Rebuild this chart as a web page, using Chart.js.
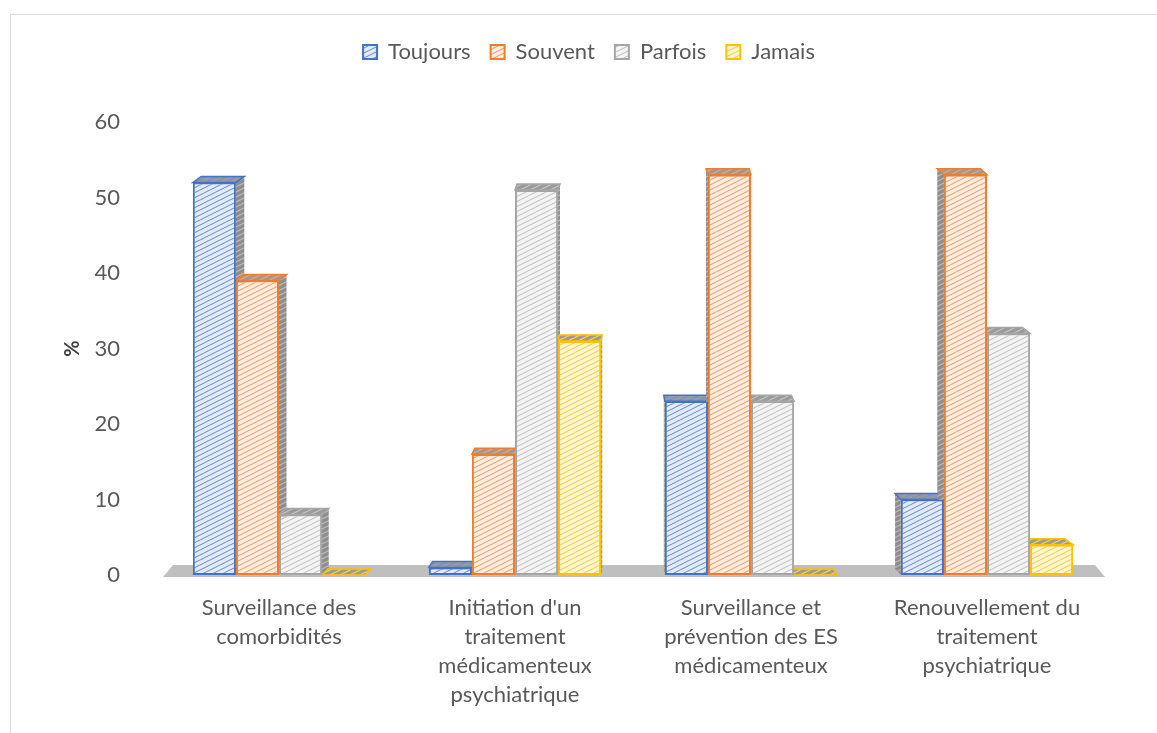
<!DOCTYPE html>
<html>
<head>
<meta charset="utf-8">
<script src="https://cdn.jsdelivr.net/npm/chart.js@4"></script>
<style>
  html, body { margin: 0; padding: 0; background: #fff; }
  #wrap { position: relative; width: 1157px; height: 733px; overflow: hidden; }
  #frame { position: absolute; left: 10px; top: 14px; width: 1160px; height: 740px; border: 1px solid #d9d9d9; }
  canvas { position: absolute; left: 0; top: 0; }
</style>
</head>
<body>
<div id="wrap">
  <div id="frame"></div>
  <canvas id="c" width="1157" height="733"></canvas>
</div>
<script>
/* ── données ─────────────────────────── */
const categories = [
  ['Surveillance des', 'comorbidités'],
  ["Initiation d'un", 'traitement', 'médicamenteux', 'psychiatrique'],
  ['Surveillance et', 'prévention des ES', 'médicamenteux'],
  ['Renouvellement du', 'traitement', 'psychiatrique']
];
const seriesNames = ['Toujours', 'Souvent', 'Parfois', 'Jamais'];
const toujours = [52, 1, 23, 10];
const souvent  = [39, 16, 53, 53];
const parfois  = [8, 51, 23, 32];
const jamais   = [0, 31, 0, 4];
const yTicks   = [0, 10, 20, 30, 40, 50, 60];

/* ── hachures ────────────────────────── */
function hatch(bg, line, lw) {
  const w = 10, h = 5;
  const t = document.createElement('canvas');
  t.width = w; t.height = h;
  const g = t.getContext('2d');
  g.fillStyle = bg; g.fillRect(0, 0, w, h);
  g.strokeStyle = line; g.lineWidth = lw || 1;
  g.beginPath();
  g.moveTo(-w, 2 * h); g.lineTo(2 * w, -h);
  g.moveTo(-w, h); g.lineTo(w, -h);
  g.moveTo(0, 2 * h); g.lineTo(2 * w, 0);
  g.stroke();
  return g.createPattern(t, 'repeat');
}

const cols = [
  { line: '#6f93d6', bg: '#e4ebf8', stroke: '#4472c4' },
  { line: '#f4a068', bg: '#fdede2', stroke: '#ed7d31' },
  { line: '#c2c2c2', bg: '#f4f4f4', stroke: '#a5a5a5' },
  { line: '#ffcf3d', bg: '#fff6d6', stroke: '#ffc000' }
];
const fills = cols.map(c => hatch(c.bg, c.line, 1.1));
const dark  = cols.map(c => hatch('#9a9a9a', c.line, 1.2));
const sideP = hatch('#8d8d8d', '#b8b8b8', 1.2);

/* ── espace sous la légende ──────────── */
const legendGap = {
  id: 'legendGap',
  beforeLayout(chart) {
    const lg = chart.legend;
    if (!lg || lg._gap) return;
    const fit = lg.fit;
    lg.fit = function () { fit.call(this); this.height = 101; };
    lg._gap = true;
  }
};

/* ── effet 3D (faces haut / côté + sol) ── */
const depth = {
  id: 'depth',
  beforeDatasetsDraw(chart) {
    const { ctx, chartArea: a } = chart;
    const y0 = chart.scales.y.getPixelForValue(0);
    const mid = (a.left + a.right) / 2;
    ctx.save();
    // sol
    ctx.fillStyle = '#bfbfbf';
    ctx.beginPath();
    ctx.moveTo(a.left + 2, y0 + 2); ctx.lineTo(a.right, y0 + 2);
    ctx.lineTo(a.right - 10, y0 - 10); ctx.lineTo(a.left + 12, y0 - 10);
    ctx.closePath(); ctx.fill();
    const d = 6;
    chart.data.datasets.forEach((ds, i) => {
      chart.getDatasetMeta(i).data.forEach(bar => {
        const x1 = bar.x - bar.width / 2, x2 = bar.x + bar.width / 2;
        const top = bar.y, dx = (mid - bar.x) * 0.02;
        // côté
        const sx = dx > 0 ? x2 : x1;
        ctx.fillStyle = sideP;
        ctx.beginPath();
        ctx.moveTo(sx, top); ctx.lineTo(sx + dx, top - d);
        ctx.lineTo(sx + dx, y0 - d); ctx.lineTo(sx, y0);
        ctx.closePath(); ctx.fill();
        // dessus
        ctx.fillStyle = dark[i];
        ctx.strokeStyle = cols[i].stroke; ctx.lineWidth = 1.5;
        ctx.beginPath();
        ctx.moveTo(x1, top); ctx.lineTo(x2, top);
        ctx.lineTo(x2 + dx, top - d); ctx.lineTo(x1 + dx, top - d);
        ctx.closePath(); ctx.fill(); ctx.stroke();
      });
    });
    ctx.restore();
  }
};

const values = [toujours, souvent, parfois, jamais];
const txt = '#595959';

new Chart('c', {
  type: 'bar',
  data: {
    labels: categories,
    datasets: seriesNames.map((n, i) => ({
      label: n,
      data: values[i],
      backgroundColor: fills[i],
      borderColor: cols[i].stroke,
      borderWidth: 2,
      borderSkipped: false,
      categoryPercentage: 0.73,
      barPercentage: 1
    }))
  },
  plugins: [legendGap, depth],
  options: {
    responsive: false, animation: false,
    layout: { padding: { top: 21, right: 0, bottom: 0, left: 21 } },
    plugins: {
      legend: {
        position: 'top',
        labels: {
          boxWidth: 14, boxHeight: 14, padding: 20,
          color: txt, font: { family: 'Lato', size: 22 }
        }
      },
      tooltip: { enabled: false }
    },
    scales: {
      y: {
        min: 0, max: 60,
        afterFit: s => { s.width = 140; },
        afterBuildTicks: s => { s.ticks = yTicks.map(v => ({ value: v })); },
        grid: { display: false }, border: { display: false },
        ticks: { color: txt, font: { family: 'Lato', size: 22 }, padding: 33 },
        title: {
          display: true, text: '%', color: '#404040',
          font: { family: 'Lato', size: 20, weight: 'bold' },
          padding: { top: 40, bottom: 0 }
        }
      },
      yr: {
        position: 'right',
        afterFit: s => { s.width = 52; },
        grid: { display: false }, border: { display: false },
        ticks: { display: false }
      },
      x: {
        afterFit: s => { s.height = 158; },
        grid: { display: false }, border: { display: false },
        ticks: {
          color: txt, font: { family: 'Lato', size: 22, lineHeight: 1.32 },
          padding: 10, maxRotation: 0
        }
      }
    }
  }
});
</script>
</body>
</html>
